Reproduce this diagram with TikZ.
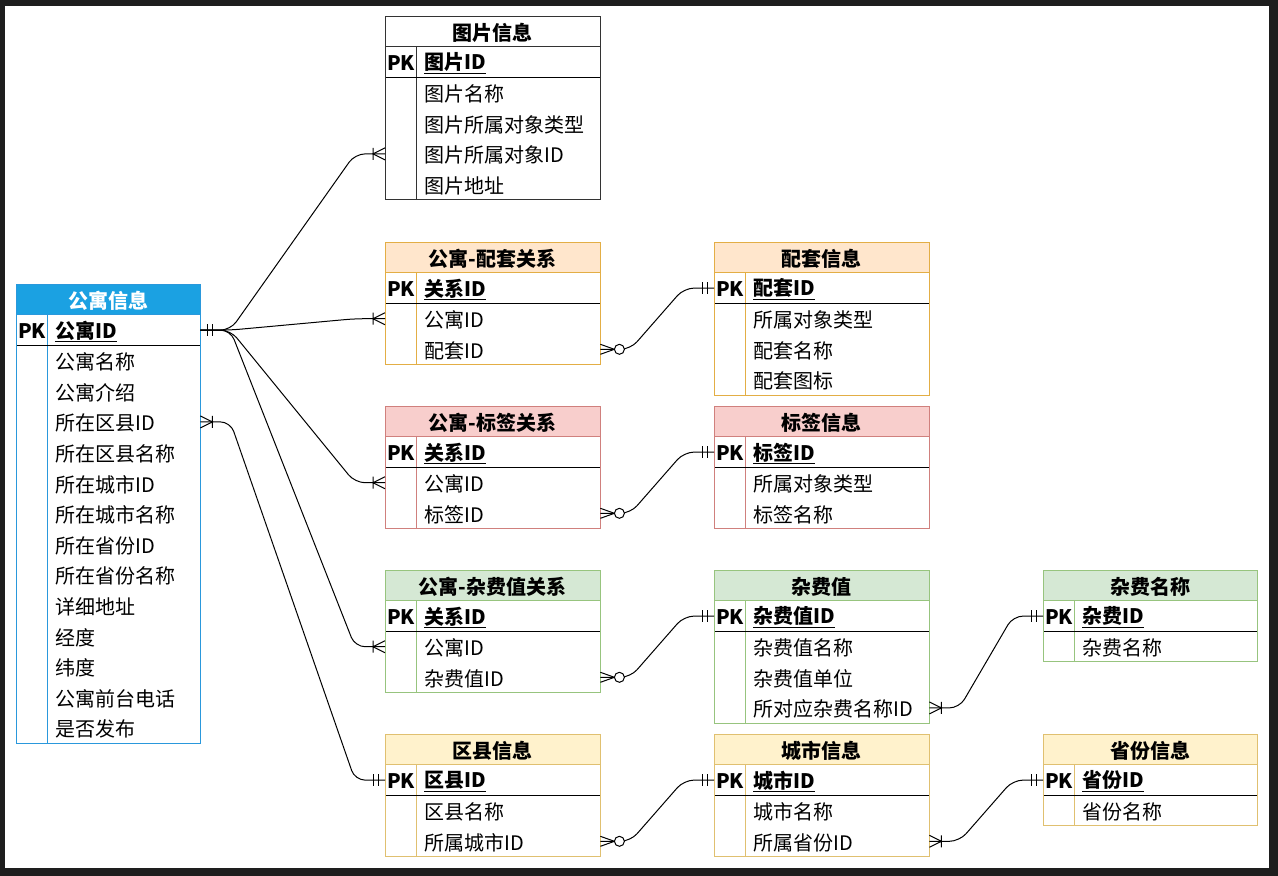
\documentclass[tikz,border=0pt]{standalone}
\usepackage{fontspec}
\setmainfont{Noto Sans CJK SC}
\usetikzlibrary{calc}
\definecolor{framec}{HTML}{1E1E1E}
\definecolor{kf}{HTML}{FFFFFF}\definecolor{ks}{HTML}{333333}
\definecolor{bf}{HTML}{1BA1E2}\definecolor{bs}{HTML}{2A98DC}
\definecolor{of}{HTML}{FFE6CC}\definecolor{os}{HTML}{E3AE45}
\definecolor{rf}{HTML}{F8CECC}\definecolor{rs}{HTML}{D0807D}
\definecolor{gf}{HTML}{D5E8D4}\definecolor{gs}{HTML}{97C47E}
\definecolor{yf}{HTML}{FFF2CC}\definecolor{ys}{HTML}{E0C070}
\tikzset{
  hdr/.style={font=\fontsize{20}{24}\selectfont\bfseries, inner sep=0pt, anchor=center},
  cell/.style={font=\fontsize{20}{24}\selectfont, inner sep=0pt, anchor=west},
  cellb/.style={font=\fontsize{20}{24}\selectfont\bfseries, inner sep=0pt, anchor=west},
  rowbox/.style={draw=none, inner sep=0pt, anchor=north west, minimum height=30.6pt},
  link/.style={draw=black, line width=1pt},
  linkpath/.style={link, rounded corners=10pt}
}
\newcommand\erTable[8][215]{%
  \def\rh{30.6}%
  \fill[#5f] (#3,#4) rectangle ++(#1,\rh);
  \node[hdr] (#2-h) at ({#3+#1/2},{#4+\rh/2+1.5}) {#6};
  \node[rowbox, minimum width=#1] (#2-pk) at (#3,{#4+\rh}) {};
  \node[cellb] at ({#3+2},{#4+1.5*\rh+1.5}) {PK};
  \node[cellb] at ({#3+39},{#4+1.5*\rh+1.5}) {\underline{#7}};
  \foreach \f [count=\i] in {#8} {
    \node[rowbox, minimum width=#1] (#2-\i) at (#3,{#4+(\i+1)*\rh}) {};
    \node[cell] at ({#3+39},{#4+(\i+1.5)*\rh+1.5}) {\f};
    \xdef\nrows{\i}}
  \draw[draw=#5s, line width=1pt] (#3,{#4+\rh}) -- ++(#1,0);
  \draw[draw=#5s, line width=1pt] ({#3+31},{#4+\rh}) -- ({#3+31},{#4+(\nrows+2)*\rh});
  \draw[draw=black, line width=1pt] (#3,{#4+2*\rh}) -- ++(#1,0);
  \draw[draw=#5s, line width=1pt] (#3,#4) rectangle ++(#1,{(\nrows+2)*\rh});
}
\newcommand\erLink[2]{\draw[linkpath] (#1) -- ++(30,0) -- ($(#2)+(-30,0)$) -- (#2);}
\newcommand\mOne[2]{\begin{scope}[shift={(#1)},xscale=#2]\draw[link] (7,-6)--(7,6) (12,-6)--(12,6);\end{scope}}
\newcommand\mMany[2]{\begin{scope}[shift={(#1)},xscale=#2]\draw[link] (0,-6)--(12,0)--(0,6) (12,-6)--(12,6);\end{scope}}
\newcommand\mZeroMany[2]{\begin{scope}[shift={(#1)},xscale=#2]\draw[link] (0,-5)--(14,0)--(0,5); \draw[link,fill=white] (19,0) circle[radius=5pt];\end{scope}}
\begin{document}
\begin{tikzpicture}[x=1pt,y=-1pt]
\useasboundingbox (0,0) rectangle (1278,876);
\fill[framec] (0,0) rectangle (1278,876);
\fill[white] (5,6) rectangle (1269,868);

\erTable{t1}{385}{16}{k}{图片信息}{图片ID}{图片名称,图片所属对象类型,图片所属对象ID,图片地址}
\erTable[184]{t2}{16}{284}{b}{\color{white}公寓信息}{公寓ID}{公寓名称,公寓介绍,所在区县ID,所在区县名称,所在城市ID,所在城市名称,所在省份ID,所在省份名称,详细地址,经度,纬度,公寓前台电话,是否发布}
\erTable{t3}{385}{242}{o}{公寓-配套关系}{关系ID}{公寓ID,配套ID}
\erTable{t4}{714}{242}{o}{配套信息}{配套ID}{所属对象类型,配套名称,配套图标}
\erTable{t5}{385}{406}{r}{公寓-标签关系}{关系ID}{公寓ID,标签ID}
\erTable{t6}{714}{406}{r}{标签信息}{标签ID}{所属对象类型,标签名称}
\erTable{t7}{385}{570}{g}{公寓-杂费值关系}{关系ID}{公寓ID,杂费值ID}
\erTable{t8}{714}{570}{g}{杂费值}{杂费值ID}{杂费值名称,杂费值单位,所对应杂费名称ID}
\erTable[214]{t9}{1043}{570}{g}{杂费名称}{杂费ID}{杂费名称}
\erTable{t10}{385}{734}{y}{区县信息}{区县ID}{区县名称,所属城市ID}
\erTable{t11}{714}{734}{y}{城市信息}{城市ID}{城市名称,所属省份ID}
\erTable[214]{t12}{1043}{734}{y}{省份信息}{省份ID}{省份名称}

\erLink{t2-pk.east}{t1-3.west}
\erLink{t2-pk.east}{t3-1.west}
\erLink{t2-pk.east}{t5-1.west}
\erLink{t2-pk.east}{t7-1.west}
\erLink{t2-3.east}{t10-pk.west}
\erLink{t3-2.east}{t4-pk.west}
\erLink{t5-2.east}{t6-pk.west}
\erLink{t7-2.east}{t8-pk.west}
\erLink{t8-3.east}{t9-pk.west}
\erLink{t10-2.east}{t11-pk.west}
\erLink{t11-2.east}{t12-pk.west}

\mOne{t2-pk.east}{1}
\mMany{t1-3.west}{-1}
\mMany{t3-1.west}{-1}
\mMany{t5-1.west}{-1}
\mMany{t7-1.west}{-1}
\mMany{t2-3.east}{1}
\mOne{t10-pk.west}{-1}
\mZeroMany{t3-2.east}{1}
\mOne{t4-pk.west}{-1}
\mZeroMany{t5-2.east}{1}
\mOne{t6-pk.west}{-1}
\mZeroMany{t7-2.east}{1}
\mOne{t8-pk.west}{-1}
\mMany{t8-3.east}{1}
\mOne{t9-pk.west}{-1}
\mZeroMany{t10-2.east}{1}
\mOne{t11-pk.west}{-1}
\mMany{t11-2.east}{1}
\mOne{t12-pk.west}{-1}
\end{tikzpicture}
\end{document}
